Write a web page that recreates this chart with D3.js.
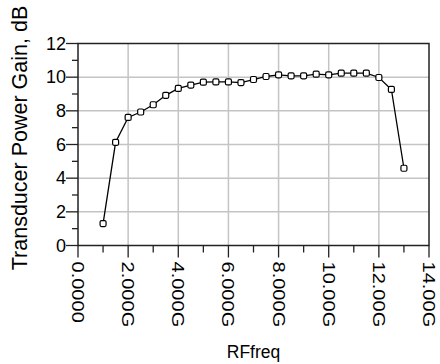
<!DOCTYPE html>
<html>
<head>
<meta charset="utf-8">
<script src="https://cdn.jsdelivr.net/npm/d3@7"></script>
<style>
  body { margin: 0; background: #fff; }
  text { font-family: "Liberation Sans", Arial, sans-serif; fill: #000; }
</style>
</head>
<body>
<div id="chart"></div>
<script>
// frequency in GHz, gain in dB
const freqGHz = [1.0, 1.5, 2.0, 2.5, 3.0, 3.5, 4.0, 4.5, 5.0, 5.5, 6.0, 6.5, 7.0,
  7.5, 8.0, 8.5, 9.0, 9.5, 10.0, 10.5, 11.0, 11.5, 12.0, 12.5, 13.0];
const gainDB = [1.30, 6.13, 7.61, 7.93, 8.36, 8.92, 9.33, 9.53, 9.70, 9.72, 9.72, 9.68, 9.86,
  10.04, 10.14, 10.08, 10.08, 10.18, 10.14, 10.24, 10.24, 10.24, 9.98, 9.27, 4.59];
const xTicks = [0, 2, 4, 6, 8, 10, 12, 14];
const xTickLabels = ["0.0000", "2.000G", "4.000G", "6.000G", "8.000G", "10.00G", "12.00G", "14.00G"];
const yTicks = [0, 2, 4, 6, 8, 10, 12];

const width = 440, height = 364;
const plotL = 78, plotR = 429, plotT = 43.5, plotB = 245.5;

const svg = d3.select("#chart").append("svg")
  .attr("width", width)
  .attr("height", height);

const x = d3.scaleLinear().domain([0, 14]).range([plotL, plotR]);
const y = d3.scaleLinear().domain([0, 12]).range([plotB, plotT]);

// grid
svg.append("g").selectAll("line")
  .data(xTicks.slice(1, -1))
  .enter().append("line")
  .attr("x1", d => x(d)).attr("x2", d => x(d))
  .attr("y1", plotT).attr("y2", plotB)
  .attr("stroke", "#c4c4c4").attr("stroke-width", 1.5);

svg.append("g").selectAll("line")
  .data(yTicks.slice(1, -1))
  .enter().append("line")
  .attr("x1", plotL).attr("x2", plotR)
  .attr("y1", d => y(d)).attr("y2", d => y(d))
  .attr("stroke", "#c4c4c4").attr("stroke-width", 1.5);

// frame
svg.append("rect")
  .attr("x", plotL).attr("y", plotT)
  .attr("width", plotR - plotL).attr("height", plotB - plotT)
  .attr("fill", "none").attr("stroke", "#222").attr("stroke-width", 1.5);

// y axis ticks
const yMinor = d3.range(1, 12, 2);
svg.append("g").selectAll("line")
  .data(yMinor).enter().append("line")
  .attr("x1", plotL - 6).attr("x2", plotL)
  .attr("y1", d => y(d)).attr("y2", d => y(d))
  .attr("stroke", "#222").attr("stroke-width", 1.3);
svg.append("g").selectAll("line")
  .data(yTicks).enter().append("line")
  .attr("x1", plotL - 12).attr("x2", plotL)
  .attr("y1", d => y(d)).attr("y2", d => y(d))
  .attr("stroke", "#222").attr("stroke-width", 1.3);
svg.append("g").selectAll("text")
  .data(yTicks).enter().append("text")
  .attr("x", plotL - 12)
  .attr("y", d => y(d))
  .attr("dy", "0.35em")
  .attr("text-anchor", "end")
  .attr("font-size", 18)
  .text(d => d);

// x axis ticks
const xMinor = d3.range(1, 14, 2);
svg.append("g").selectAll("line")
  .data(xMinor).enter().append("line")
  .attr("x1", d => x(d)).attr("x2", d => x(d))
  .attr("y1", plotB).attr("y2", plotB + 7)
  .attr("stroke", "#222").attr("stroke-width", 1.3);
svg.append("g").selectAll("line")
  .data(xTicks).enter().append("line")
  .attr("x1", d => x(d)).attr("x2", d => x(d))
  .attr("y1", plotB).attr("y2", plotB + 12)
  .attr("stroke", "#222").attr("stroke-width", 1.3);
// rotated labels are drawn stretched along the reading direction, as in the source plot
svg.append("g").selectAll("text")
  .data(xTicks).enter().append("text")
  .attr("transform", d => `translate(${x(d)},${plotB + 16}) rotate(90) scale(1.18,1)`)
  .attr("dy", "0.35em")
  .attr("text-anchor", "start")
  .attr("font-size", 17)
  .text((d, i) => xTickLabels[i]);

// titles
svg.append("text")
  .attr("x", (plotL + plotR) / 2)
  .attr("y", 358)
  .attr("text-anchor", "middle")
  .attr("font-size", 17.5)
  .text("RFfreq");

svg.append("text")
  .attr("transform", `translate(27,138) rotate(-90)`)
  .attr("text-anchor", "middle")
  .attr("font-size", 21.5)
  .text("Transducer Power Gain, dB");

// data
const pts = freqGHz.map((f, i) => [f, gainDB[i]]);
const line = d3.line().x(d => x(d[0])).y(d => y(d[1]));

svg.append("path")
  .attr("d", line(pts))
  .attr("fill", "none")
  .attr("stroke", "#000")
  .attr("stroke-width", 1.3);

svg.append("g").selectAll("rect")
  .data(pts).enter().append("rect")
  .attr("x", d => x(d[0]) - 3)
  .attr("y", d => y(d[1]) - 3)
  .attr("width", 6).attr("height", 6)
  .attr("rx", 1.5)
  .attr("fill", "#fff")
  .attr("stroke", "#000")
  .attr("stroke-width", 1.2);
</script>
</body>
</html>
